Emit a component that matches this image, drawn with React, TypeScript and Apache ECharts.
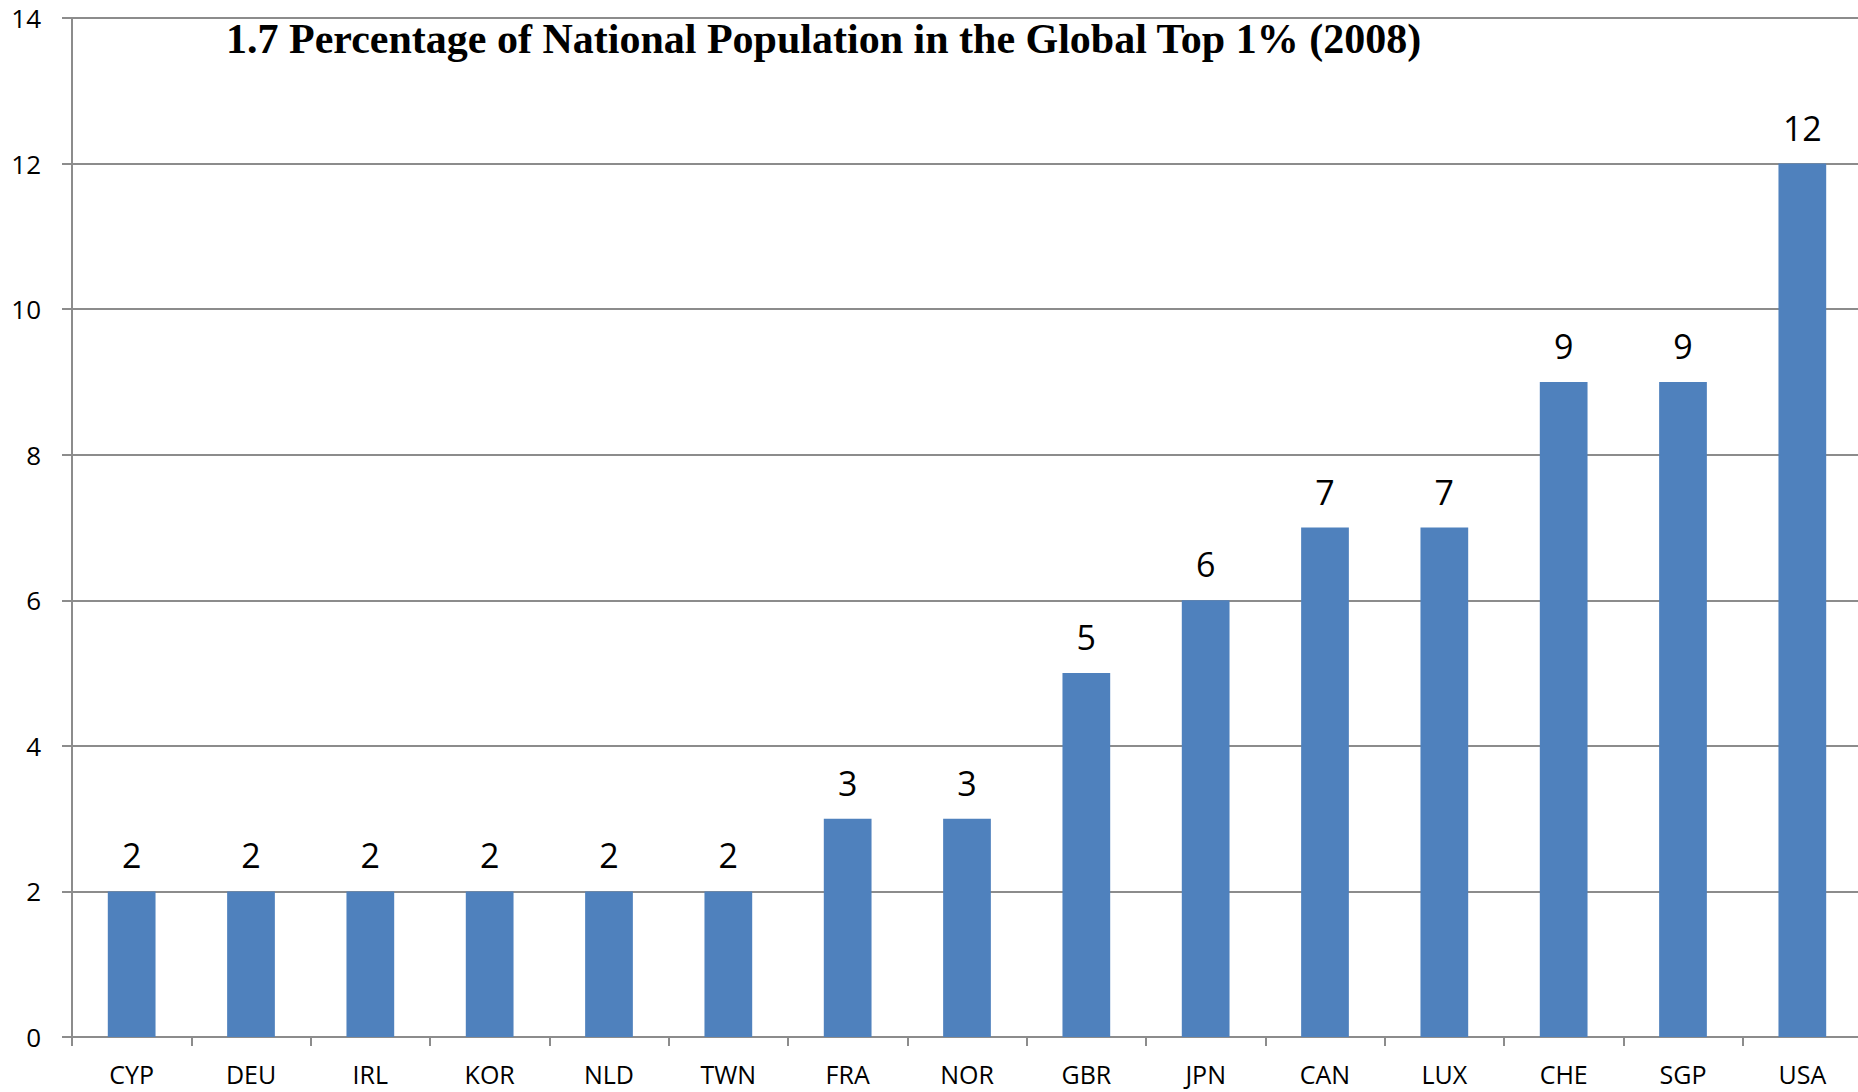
import React, { useEffect, useRef } from "react";
import * as echarts from "echarts";

const countries = ["CYP", "DEU", "IRL", "KOR", "NLD", "TWN", "FRA", "NOR", "GBR", "JPN", "CAN", "LUX", "CHE", "SGP", "USA"];
const shares = [2, 2, 2, 2, 2, 2, 3, 3, 5, 6, 7, 7, 9, 9, 12];
const yTicks = { min: 0, max: 14, interval: 2 };
const chartTitle = "1.7 Percentage of National Population in the Global Top 1% (2008)";

const GRAY = "#8c8c8c";
const BAR = "#4f81bd";
const SANS = "'Open Sans', 'Liberation Sans', sans-serif";

export default function App() {
  const ref = useRef<HTMLDivElement>(null);

  useEffect(() => {
    if (!ref.current) return;
    const chart = echarts.init(ref.current, null, { renderer: "svg" });
    chart.setOption({
      animation: false,
      backgroundColor: "#ffffff",
      title: {
        text: chartTitle,
        left: 221,
        top: 13,
        textStyle: {
          fontFamily: "'Liberation Serif', 'Times New Roman', serif",
          fontWeight: "bold",
          fontSize: 42,
          color: "#000",
        },
      },
      // the plot runs a few pixels past the visible right edge, so the
      // last category's boundary tick falls just outside the frame
      grid: { left: 72, right: 0, top: 18, bottom: 55, containLabel: false },
      xAxis: {
        type: "category",
        data: countries,
        axisLine: { show: true, lineStyle: { color: GRAY, width: 2 } },
        axisTick: { show: true, length: 9, lineStyle: { color: GRAY, width: 2 } },
        axisLabel: {
          fontFamily: SANS,
          fontSize: 25,
          lineHeight: 24,
          color: "#000",
          margin: 25,
        },
        splitLine: { show: false },
      },
      yAxis: {
        type: "value",
        min: yTicks.min,
        max: yTicks.max,
        interval: yTicks.interval,
        axisLine: { show: true, lineStyle: { color: GRAY, width: 2 } },
        axisTick: { show: true, length: 10, lineStyle: { color: GRAY, width: 2 } },
        axisLabel: { fontFamily: SANS, fontSize: 26, color: "#000", margin: 31 },
        splitLine: { show: true, lineStyle: { color: GRAY, width: 2 } },
      },
      series: [
        {
          type: "bar",
          data: shares,
          barCategoryGap: "60%",
          itemStyle: { color: BAR },
          label: {
            show: true,
            position: "top",
            distance: 19,
            fontFamily: SANS,
            fontSize: 34,
            color: "#000",
          },
        },
      ],
    });
    return () => chart.dispose();
  }, []);

  return (
    <div
      style={{
        position: "absolute",
        left: 0,
        top: 0,
        width: 1858,
        height: 1092,
        overflow: "hidden",
        background: "#fff",
      }}
    >
      <div ref={ref} style={{ width: 1862, height: 1092 }} />
    </div>
  );
}
